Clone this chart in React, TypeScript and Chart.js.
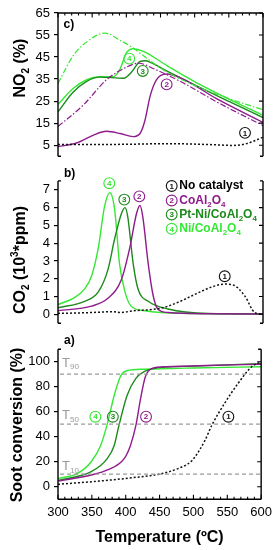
import React, { useEffect, useRef } from 'react';
import { Chart, registerables } from 'chart.js';
Chart.register(...registerables);

// ---------------- data ----------------
const tempTicks = [300, 350, 400, 450, 500, 550, 600];
const no2Ticks = [5, 15, 25, 35, 45, 55, 65];
const co2Ticks = [0, 1, 2, 3, 4, 5, 6, 7];
const sootTicks = [0, 20, 40, 60, 80, 100];

const seriesNames = ['No catalyst', 'CoAl2O4', 'Pt-Ni/CoAl2O4', 'Ni/CoAl2O4'];

// panel c: NO2 (%)
const no2NoCatT = [300, 350, 400, 459, 520, 556, 576, 600];
const no2NoCat = [5.3, 5.3, 5.4, 5.7, 5.3, 4.9, 5.7, 8.6];
const no2CoT = [300, 327, 352, 371, 391, 410, 420, 427, 435, 444, 459, 483, 532, 600];
const no2Co = [4.3, 6.0, 9.6, 11.3, 10.3, 8.9, 10.3, 16, 27.5, 34.7, 37.3, 35, 26.1, 15.3];
const no2PtNiT = [300, 322, 342, 361, 396, 408, 420, 428, 435, 459, 508, 557, 600];
const no2PtNi = [20.1, 29, 34, 35.9, 35.4, 38.3, 43, 43.3, 42.6, 38.7, 31.1, 23.9, 17.5];
const no2NiT = [300, 322, 342, 361, 381, 391, 400, 410, 425, 459, 508, 557, 600];
const no2Ni = [23.5, 30.7, 34.7, 36.1, 36.1, 39.7, 46.9, 48.8, 47.6, 41.2, 32.5, 24.9, 18.6];
const no2NiRefT = [300, 322, 342, 369, 391, 410, 435, 459, 508, 557, 600];
const no2NiRef = [33, 45.5, 51.9, 55.9, 52.6, 49.1, 43.3, 38.3, 31.1, 25.4, 21.1];
const no2CoRefT = [300, 337, 371, 400, 418, 440, 483, 532, 600];
const no2CoRef = [13.5, 23.2, 34.7, 40.4, 42.2, 39.7, 33.3, 24.7, 13.9];
const no2MarkT = [573.7, 459, 424, 404.3];
const no2MarkV = [10.6, 32.6, 38.7, 44.3];

// panel b: CO2 (10^3 ppm)
const co2NoCatT = [300, 350, 380, 392, 410, 440, 458, 480, 502, 526, 545, 558, 573, 588, 600];
const co2NoCat = [0.05, 0.1, 0.15, 0.1, 0.2, 0.28, 0.42, 0.75, 1.15, 1.55, 1.7, 1.62, 1.05, 0.1, 0];
const co2CoT = [300, 349, 373, 393, 405, 415, 420, 424, 432, 439, 446, 461, 520, 600];
const co2Co = [0.2, 0.46, 0.9, 1.97, 3.73, 5.68, 6.12, 5.5, 2.85, 1.1, 0.3, 0.1, 0.03, 0.02];
const co2PtNiT = [300, 339, 359, 373, 383, 393, 398, 402, 410, 417, 432, 461, 520, 600];
const co2PtNi = [0.37, 0.73, 1.26, 2.5, 4.26, 5.68, 6.0, 5.5, 2.85, 1.44, 0.73, 0.3, 0.05, 0.02];
const co2NiT = [300, 324, 339, 349, 359, 368, 376, 383, 390, 398, 407, 427, 450, 500, 600];
const co2Ni = [0.55, 0.94, 1.43, 2.14, 3.73, 6.04, 6.83, 5.86, 2.85, 1.26, 0.46, 0.2, 0.1, 0.04, 0.02];
const co2MarkT = [544, 419, 397, 375];
const co2MarkV = [2.14, 6.63, 6.45, 7.37];

// panel a: soot conversion (%)
const sootNoCatT = [300, 361, 410, 449, 478, 498, 517, 527, 546, 566, 586, 600];
const sootNoCat = [1.9, 4.5, 7.2, 10, 14.7, 21, 37, 49, 66.7, 82.7, 96, 100];
const sootCoT = [300, 349, 373, 398, 407, 415, 422, 429, 439, 460, 520, 600];
const sootCo = [4.5, 9.4, 13.4, 22.7, 33, 49, 70.7, 88, 94.7, 96, 97, 98];
const sootPtNiT = [300, 349, 373, 383, 390, 402, 415, 427, 441, 500, 600];
const sootPtNi = [5, 12, 22.7, 33, 49, 73, 86.7, 92, 94.5, 96.5, 98.5];
const sootNiT = [300, 329, 349, 363, 373, 383, 393, 402, 427, 500, 600];
const sootNi = [6.5, 10.7, 20, 33, 50.7, 73, 89, 92.8, 94, 95, 96];
const sootRefLevels = [90, 50, 10];
const sootRefNames = ['90', '50', '10'];
const sootRefLabelV = [99, 57, 16];
const sootRefStartT = 303;
const sootMarkT = [551.6, 430, 381, 355.2];
const sootMarkV = [56, 56, 56, 56];

// ---------------- styles ----------------
const FONT = '"Liberation Sans", Arial, Helvetica, sans-serif';
const BLACK = '#111111';
const PURPLE = '#8e1b8c';
const DGREEN = '#1d8a1d';
const LGREEN = '#35e835';
const GREY = '#9a9a9a';
const seriesColors = [BLACK, PURPLE, DGREEN, LGREEN];

type Part = { t: string; sub?: boolean; sup?: boolean };

const nameParts: Part[][] = [
  [{ t: 'No catalyst' }],
  [{ t: 'CoAl' }, { t: '2', sub: true }, { t: 'O' }, { t: '4', sub: true }],
  [{ t: 'Pt-Ni/CoAl' }, { t: '2', sub: true }, { t: 'O' }, { t: '4', sub: true }],
  [{ t: 'Ni/CoAl' }, { t: '2', sub: true }, { t: 'O' }, { t: '4', sub: true }],
];

function partFont(p: Part, size: number, bold: boolean) {
  const s = p.sub || p.sup ? Math.round(size * 0.64) : size;
  return `${bold ? 'bold ' : ''}${s}px ${FONT}`;
}

function richWidth(ctx: CanvasRenderingContext2D, parts: Part[], size: number, bold: boolean) {
  let w = 0;
  for (const p of parts) {
    ctx.font = partFont(p, size, bold);
    w += ctx.measureText(p.t).width;
  }
  return w;
}

function drawRich(ctx: CanvasRenderingContext2D, parts: Part[], x: number, y: number, size: number, bold: boolean, color: string) {
  ctx.fillStyle = color;
  ctx.textAlign = 'left';
  ctx.textBaseline = 'middle';
  let cx = x;
  for (const p of parts) {
    ctx.font = partFont(p, size, bold);
    const dy = p.sub ? size * 0.32 : p.sup ? -size * 0.38 : 0;
    ctx.fillText(p.t, cx, y + dy);
    cx += ctx.measureText(p.t).width;
  }
}

function drawRotTitle(ctx: CanvasRenderingContext2D, parts: Part[], cx: number, cy: number, size: number) {
  ctx.save();
  ctx.translate(cx, cy);
  ctx.rotate(-Math.PI / 2);
  const w = richWidth(ctx, parts, size, true);
  drawRich(ctx, parts, -w / 2, 0, size, true, '#000');
  ctx.restore();
}

function circNum(ctx: CanvasRenderingContext2D, x: number, y: number, n: number, color: string) {
  ctx.save();
  ctx.beginPath();
  ctx.arc(x, y, 5.4, 0, Math.PI * 2);
  ctx.lineWidth = 1.1;
  ctx.strokeStyle = color;
  ctx.stroke();
  ctx.fillStyle = color;
  ctx.font = `bold 8px ${FONT}`;
  ctx.textAlign = 'center';
  ctx.textBaseline = 'middle';
  ctx.fillText(String(n), x, y + 0.5);
  ctx.restore();
}

function xy(t: number[], v: number[]) {
  return t.map((x, i) => ({ x, y: v[i] }));
}

function lineDs(label: string, t: number[], v: number[], color: string, dash: number[], width = 1.4) {
  return {
    label,
    data: xy(t, v),
    borderColor: color,
    backgroundColor: color,
    borderDash: dash,
    borderWidth: width,
    pointRadius: 0,
    pointHoverRadius: 0,
    fill: false,
    cubicInterpolationMode: 'monotone',
  };
}

const DOT = [2, 2];
const DASHDOT = [6, 2, 1.5, 2];

function yScale(min: number, max: number, ticks: number[]) {
  return {
    type: 'linear',
    position: 'left',
    min,
    max,
    afterBuildTicks: (s: any) => {
      s.ticks = ticks.map((v) => ({ value: v }));
    },
    afterFit: (s: any) => {
      s.width = 50;
    },
    grid: { display: true, drawOnChartArea: false, drawTicks: true, tickLength: 4, color: '#000', lineWidth: 1.2 },
    border: { display: false },
    ticks: { color: '#000', font: { family: FONT, size: 13 }, padding: 4 },
  };
}

function frame(chart: any, topAxis: boolean, bottomAxis: boolean) {
  const ctx: CanvasRenderingContext2D = chart.ctx;
  const { left, right, top, bottom } = chart.chartArea;
  const ys = chart.scales.y;
  const xs = chart.scales.x;
  ctx.save();
  ctx.strokeStyle = '#000';
  ctx.lineWidth = 1.4;
  ctx.beginPath();
  ctx.moveTo(left, top);
  ctx.lineTo(left, bottom);
  ctx.moveTo(right, top);
  ctx.lineTo(right, bottom);
  if (!topAxis) {
    ctx.moveTo(left, top); ctx.lineTo(left + 3, top);
    ctx.moveTo(right, top); ctx.lineTo(right - 3, top);
  }
  if (!bottomAxis) {
    ctx.moveTo(left, bottom); ctx.lineTo(left + 3, bottom);
    ctx.moveTo(right, bottom); ctx.lineTo(right - 3, bottom);
  }
  ctx.stroke();
  ctx.lineWidth = 1.1;
  ctx.beginPath();
  for (const t of ys.ticks) {
    const y = ys.getPixelForValue(t.value);
    ctx.moveTo(right - 4, y);
    ctx.lineTo(right, y);
  }
  ctx.stroke();
  const xTickT: number[] = [];
  for (let t = 300; t <= 600; t += 10) xTickT.push(t);
  if (topAxis || bottomAxis) {
    ctx.lineWidth = 1.4;
    ctx.beginPath();
    const yy = topAxis ? top : bottom;
    ctx.moveTo(left, yy);
    ctx.lineTo(right, yy);
    ctx.stroke();
    ctx.lineWidth = 1.1;
    ctx.beginPath();
    for (const t of xTickT) {
      const x = xs.getPixelForValue(t);
      const len = tempTicks.includes(t) ? 4.5 : 2.5;
      ctx.moveTo(x, yy);
      ctx.lineTo(x, topAxis ? yy + len : yy - len);
    }
    ctx.stroke();
  }
  ctx.restore();
}

function panelLabel(ctx: CanvasRenderingContext2D, text: string, x: number, y: number) {
  ctx.save();
  ctx.fillStyle = '#000';
  ctx.font = `bold 12px ${FONT}`;
  ctx.textAlign = 'left';
  ctx.textBaseline = 'middle';
  ctx.fillText(text, x, y);
  ctx.restore();
}

function marks(chart: any, ts: number[], vs: number[]) {
  const xs = chart.scales.x;
  const ys = chart.scales.y;
  ts.forEach((t, i) => {
    circNum(chart.ctx, xs.getPixelForValue(t), ys.getPixelForValue(vs[i]), i + 1, seriesColors[i]);
  });
}

const xHidden = { type: 'linear', min: 300, max: 600, display: false };

export default function App() {
  const cRef = useRef<HTMLCanvasElement>(null);
  const bRef = useRef<HTMLCanvasElement>(null);
  const aRef = useRef<HTMLCanvasElement>(null);

  useEffect(() => {
    const charts: Chart[] = [];
    const common = {
      animation: false,
      responsive: false,
      events: [],
      plugins: { legend: { display: false }, tooltip: { enabled: false }, title: { display: false } },
    };

    // ---- panel c ----
    charts.push(
      new Chart(cRef.current as HTMLCanvasElement, {
        type: 'line',
        data: {
          datasets: [
            lineDs('NO2 ' + seriesNames[0], no2NoCatT, no2NoCat, BLACK, DOT, 1.5),
            lineDs('NO2 ' + seriesNames[1] + ' (no soot)', no2CoRefT, no2CoRef, PURPLE, DASHDOT, 1.2),
            lineDs('NO2 ' + seriesNames[3] + ' (no soot)', no2NiRefT, no2NiRef, LGREEN, DASHDOT, 1.2),
            lineDs('NO2 ' + seriesNames[1], no2CoT, no2Co, PURPLE, []),
            lineDs('NO2 ' + seriesNames[2], no2PtNiT, no2PtNi, DGREEN, []),
            lineDs('NO2 ' + seriesNames[3], no2NiT, no2Ni, LGREEN, []),
          ],
        },
        options: {
          ...common,
          layout: { padding: { left: 8, right: 14, top: 13, bottom: 4.1 } },
          scales: { x: xHidden, y: yScale(0, 65, no2Ticks) },
        } as any,
        plugins: [
          {
            id: 'decorC',
            afterDraw(chart: any) {
              frame(chart, true, false);
              marks(chart, no2MarkT, no2MarkV);
              const ctx = chart.ctx;
              panelLabel(ctx, 'c)', 63.5, 25);
              drawRotTitle(ctx, [{ t: 'NO' }, { t: '2', sub: true }, { t: ' (%)' }], 21, 68, 16);
            },
          },
        ],
      } as any)
    );

    // ---- panel b ----
    charts.push(
      new Chart(bRef.current as HTMLCanvasElement, {
        type: 'line',
        data: {
          datasets: [
            lineDs('CO2 ' + seriesNames[0], co2NoCatT, co2NoCat, BLACK, DOT, 1.5),
            lineDs('CO2 ' + seriesNames[1], co2CoT, co2Co, PURPLE, []),
            lineDs('CO2 ' + seriesNames[2], co2PtNiT, co2PtNi, DGREEN, []),
            lineDs('CO2 ' + seriesNames[3], co2NiT, co2Ni, LGREEN, []),
          ],
        },
        options: {
          ...common,
          layout: { padding: { left: 8, right: 14, top: 12.9, bottom: 3.6 } },
          scales: { x: xHidden, y: yScale(-0.5, 7.5, co2Ticks) },
        } as any,
        plugins: [
          {
            id: 'decorB',
            afterDraw(chart: any) {
              frame(chart, false, false);
              marks(chart, co2MarkT, co2MarkV);
              const ctx = chart.ctx;
              panelLabel(ctx, 'b)', 64, 6);
              drawRotTitle(
                ctx,
                [{ t: 'CO' }, { t: '2', sub: true }, { t: ' (10' }, { t: '3', sup: true }, { t: '*ppm)' }],
                21,
                92,
                16
              );
              const rows = [18, 32.5, 46.5, 60.8];
              rows.forEach((y, i) => {
                circNum(ctx, 171.7, y, i + 1, seriesColors[i]);
                drawRich(ctx, nameParts[i], 179.3, y, 12, true, i === 0 ? '#000' : seriesColors[i]);
              });
            },
          },
        ],
      } as any)
    );

    // ---- panel a ----
    const refDs = sootRefLevels.map((lv) => ({
      label: 'T' + lv,
      data: [
        { x: sootRefStartT, y: lv },
        { x: 600, y: lv },
      ],
      borderColor: GREY,
      borderDash: [4, 3],
      borderWidth: 1.2,
      pointRadius: 0,
      fill: false,
    }));
    charts.push(
      new Chart(aRef.current as HTMLCanvasElement, {
        type: 'line',
        data: {
          datasets: [
            ...refDs,
            lineDs('Soot ' + seriesNames[0], sootNoCatT, sootNoCat, BLACK, DOT, 1.5),
            lineDs('Soot ' + seriesNames[1], sootCoT, sootCo, PURPLE, []),
            lineDs('Soot ' + seriesNames[2], sootPtNiT, sootPtNi, DGREEN, []),
            lineDs('Soot ' + seriesNames[3], sootNiT, sootNi, LGREEN, []),
          ],
        },
        options: {
          ...common,
          layout: { padding: { left: 8, right: 14, top: 14.2, bottom: 0 } },
          scales: {
            x: {
              type: 'linear',
              position: 'bottom',
              min: 300,
              max: 600,
              afterBuildTicks: (s: any) => {
                s.ticks = tempTicks.map((v) => ({ value: v }));
              },
              afterFit: (s: any) => {
                s.height = 50.8;
              },
              grid: { display: false, drawTicks: false },
              border: { display: false },
              ticks: { color: '#000', font: { family: FONT, size: 13 }, padding: 5, maxRotation: 0, autoSkip: false },
              title: {
                display: true,
                text: 'Temperature (ºC)',
                color: '#000',
                font: { family: FONT, size: 16, weight: 'bold' },
                padding: { top: 0, bottom: 3 },
              },
            },
            y: yScale(-10, 110, sootTicks),
          },
        } as any,
        plugins: [
          {
            id: 'decorA',
            afterDraw(chart: any) {
              frame(chart, false, true);
              marks(chart, sootMarkT, sootMarkV);
              const ctx = chart.ctx;
              const xs = chart.scales.x;
              const ys = chart.scales.y;
              sootRefNames.forEach((n, i) => {
                drawRich(ctx, [{ t: 'T' }, { t: n, sub: true }], xs.getPixelForValue(sootRefStartT) + 2, ys.getPixelForValue(sootRefLabelV[i]), 13, false, GREY);
              });
              panelLabel(ctx, 'a)', 64, 5.7);
              drawRotTitle(ctx, [{ t: 'Soot conversion (%)' }], 18, 90, 16);
            },
          },
        ],
      } as any)
    );

    return () => {
      charts.forEach((c) => c.destroy());
    };
  }, []);

  const cv: React.CSSProperties = { position: 'absolute', left: 0, display: 'block' };
  return (
    <div style={{ position: 'absolute', left: 0, top: 0, width: 277, height: 550, background: '#fff' }}>
      <canvas ref={cRef} width={277} height={168} style={{ ...cv, top: 0, width: 277, height: 168 }} />
      <canvas ref={bRef} width={277} height={167} style={{ ...cv, top: 168, width: 277, height: 167 }} />
      <canvas ref={aRef} width={277} height={215} style={{ ...cv, top: 335, width: 277, height: 215 }} />
    </div>
  );
}
